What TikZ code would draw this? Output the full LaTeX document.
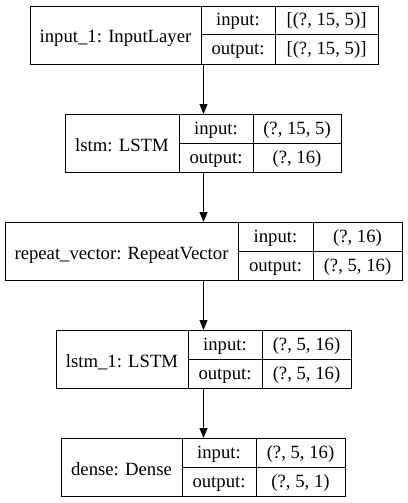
\documentclass[tikz,border=0pt]{standalone}
\usepackage{fontspec}
\setmainfont{Liberation Serif}
\usetikzlibrary{arrows.meta}

\tikzset{
  layerbox/.style={draw, line width=1pt, inner sep=0pt, anchor=north west, minimum height=58pt},
  celltext/.style={font=\fontsize{18.7}{22}\selectfont, inner sep=0pt, text height=13pt, text depth=2pt},
  flow/.style={line width=1pt, -{Triangle[length=10pt,width=8pt]}},
}

\begin{document}
\begin{tikzpicture}[x=1pt, y=-1pt]
\useasboundingbox (0,0) rectangle (407,503);
% one record per layer: name | input:/output: | shapes
\foreach \id/\t/\xa/\xb/\xc/\xd/\lname/\lin/\lout in {
  l1/6/30/201/275/378/{input\_1: InputLayer}/{[(?, 15, 5)]}/{[(?, 15, 5)]},
  l2/114/65/179/253/341/{lstm: LSTM}/{(?, 15, 5)}/{(?, 16)},
  l3/222/5/238/313/402/{repeat\_vector: RepeatVector}/{(?, 16)}/{(?, 5, 16)},
  l4/330/56/188/262/351/{lstm\_1: LSTM}/{(?, 5, 16)}/{(?, 5, 16)},
  l5/438/61/182/256/345/{dense: Dense}/{(?, 5, 16)}/{(?, 5, 1)}}
{
  \node[layerbox, minimum width={(\xd-\xa)*1pt}] (\id) at (\xa,\t) {};
  \draw[line width=1pt] (\xb,\t) -- (\xb,\t+58) (\xc,\t) -- (\xc,\t+58) (\xb,\t+29) -- (\xd,\t+29);
  \node[celltext] (\id-name) at ({(\xa+\xb)/2},\t+31.5) {\lname};
  \node[celltext] (\id-inl) at ({(\xb+\xc)/2},\t+14.5) {input:};
  \node[celltext] (\id-outl) at ({(\xb+\xc)/2},\t+43.5) {output:};
  \node[celltext] (\id-in) at ({(\xc+\xd)/2},\t+14.5) {\lin};
  \node[celltext] (\id-out) at ({(\xc+\xd)/2},\t+43.5) {\lout};
}
\draw[flow] (l2.north |- l1.south) -- (l2.north);
\draw[flow] (l2.south) -- (l2.south |- l3.north);
\draw[flow] (l2.south |- l3.south) -- (l2.south |- l4.north);
\draw[flow] (l2.south |- l4.south) -- (l2.south |- l5.north);
\end{tikzpicture}
\end{document}
